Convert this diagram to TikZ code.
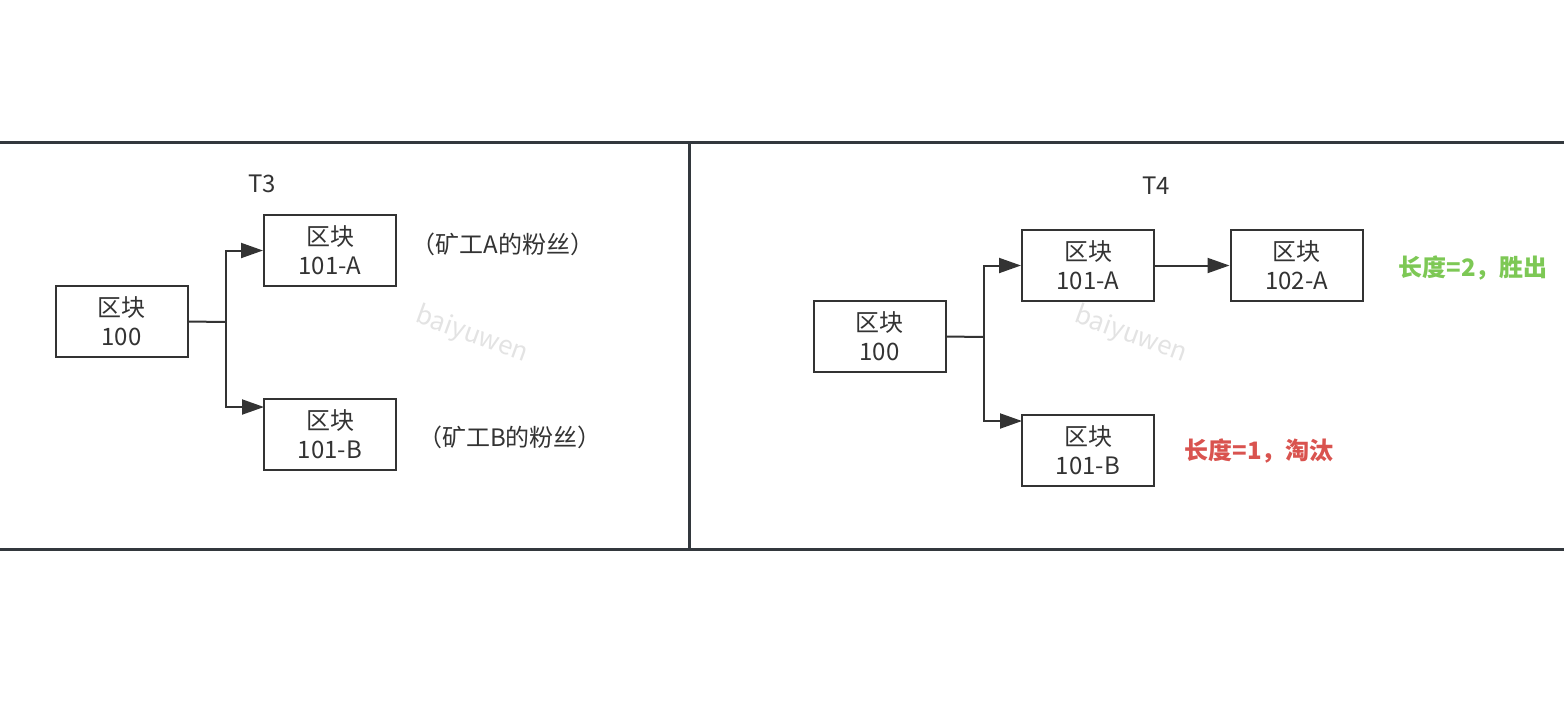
\documentclass[tikz,border=0pt]{standalone}
\usepackage{fontspec}
\setmainfont{Noto Sans CJK SC}
\usetikzlibrary{arrows.meta}
\definecolor{ink}{HTML}{333333}
\definecolor{frame}{HTML}{33383D}
\definecolor{wingreen}{HTML}{7DC855}
\definecolor{losered}{HTML}{D9534F}
\definecolor{wm}{HTML}{E3E3E3}
\tikzset{
  blockbox/.style={draw=ink, line width=1pt, minimum width=66pt, minimum height=35.5pt,
    inner sep=0pt, align=center, font=\fontsize{12}{14.5}\selectfont, text=ink},
  conn/.style={draw=ink, line width=1pt, -{Triangle[length=11pt,width=7.5pt]}},
  plain/.style={draw=ink, line width=1pt},
  panel/.style={draw=frame, line width=1.5pt},
  lbl/.style={font=\fontsize{12}{14}\selectfont, text=ink},
  wmark/.style={font=\fontsize{13}{14}\selectfont, text=wm, rotate=-20},
}
\begin{document}
\begin{tikzpicture}[x=0.5pt, y=-0.5pt]
\useasboundingbox (0,0) rectangle (1564,714);
% panel frame
\coordinate (tl) at (0,142);
\coordinate (tr) at (1564,142);
\coordinate (bl) at (0,549);
\coordinate (br) at (1564,549);
\coordinate (dt) at (689,142);
\coordinate (db) at (689,549);
\draw[panel] (tl) -- (tr);
\draw[panel] (bl) -- (br);
\draw[panel] (dt) -- (db);

% watermarks
\node[wmark] (wm1) at (472,335) {baiyuwen};
\node[wmark] (wm2) at (1131,335) {baiyuwen};

% left panel T3
\node[lbl] (t3) at (262,184) {T3};
\node[blockbox] (l100) at (121.5,321.5) {区块\\100};
\node[blockbox] (l101a) at (330,250.5) {区块\\101-A};
\node[blockbox] (l101b) at (330,434.5) {区块\\101-B};
\node[lbl] (la) at (503,244) {（矿工A的粉丝）};
\node[lbl] (lb) at (510,437) {（矿工B的粉丝）};
\coordinate (lj) at (226,322);
\coordinate (lbt) at (264,407);
\draw[plain] (l100.east) -- (lj);
\draw[conn] (lj) |- (l101a.west);
\draw[conn] (lj) |- (lbt);

% right panel T4
\node[lbl] (t4) at (1156,186) {T4};
\node[blockbox] (r100) at (879.5,336.5) {区块\\100};
\node[blockbox] (r101a) at (1088,265.5) {区块\\101-A};
\node[blockbox] (r101b) at (1088,450) {区块\\101-B};
\node[blockbox] (r102a) at (1296.5,265.5) {区块\\102-A};
\node[font=\fontsize{12}{14}\selectfont\bfseries, text=wingreen] (win) at (1473,268) {长度=2，胜出};
\node[font=\fontsize{12}{14}\selectfont\bfseries, text=losered] (lose) at (1259,451) {长度=1，淘汰};
\coordinate (rj) at (984,337);
\coordinate (rbt) at (1022,421);
\draw[plain] (r100.east) -- (rj);
\draw[conn] (rj) |- (r101a.west);
\draw[conn] (rj) |- (rbt);
\draw[conn] (r101a.east) -- (r102a.west);
\end{tikzpicture}
\end{document}
